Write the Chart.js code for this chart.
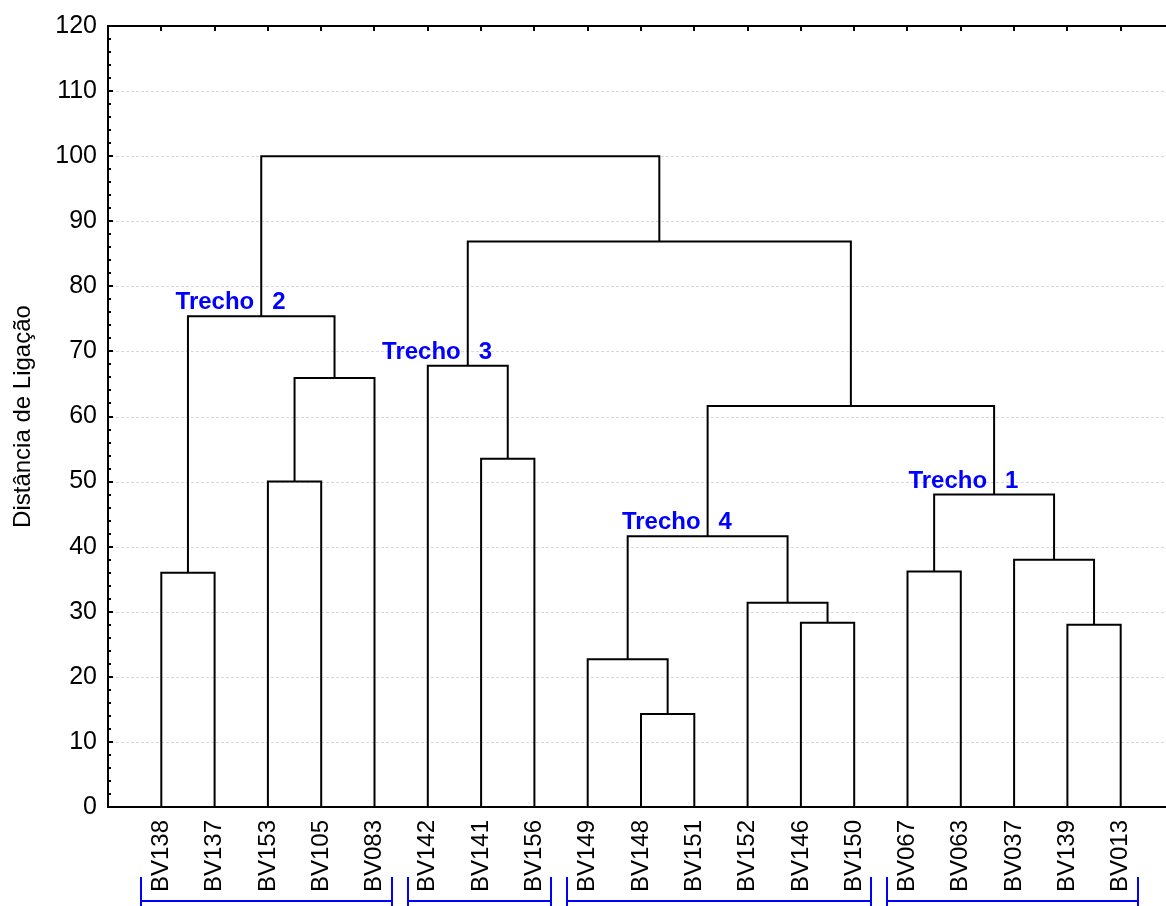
<!DOCTYPE html>
<html>
<head>
<meta charset="utf-8">
<script src="https://cdn.jsdelivr.net/npm/chart.js@4.4.0/dist/chart.umd.min.js"></script>
<style>
  html, body { margin: 0; padding: 0; background: #fff; }
  #wrap { width: 1166px; height: 906px; position: relative; }
</style>
</head>
<body>
<div id="wrap"><canvas id="chart"></canvas></div>
<script>
// --- DATA ---
// leaves in dendrogram order
const leafLabels = ['BV138', 'BV137', 'BV153', 'BV105', 'BV083', 'BV142', 'BV141', 'BV156', 'BV149', 'BV148',
  'BV151', 'BV152', 'BV146', 'BV150', 'BV067', 'BV063', 'BV037', 'BV139', 'BV013'];

// linkage: ids below 19 are leaves, id 19 + k is merge k
const mergeLeft = [0, 2, 20, 19, 6, 5, 9, 8, 12, 11, 26, 14, 17, 16, 30, 29, 24, 22];
const mergeRight = [1, 3, 4, 21, 7, 23, 10, 25, 13, 27, 28, 15, 18, 31, 32, 33, 34, 35];
const mergeHeight = [36.0, 50.0, 65.9, 75.4, 53.5, 67.8, 14.3, 22.7, 28.3, 31.4, 41.6, 36.2, 28.0, 38.0, 48.0, 61.6, 86.9, 100.0];

// groups (trechos)
const groupWord = 'Trecho';
const groupNumber = ['2', '3', '4', '1'];
const groupMerge = [3, 5, 10, 14];
const groupFirstLeaf = [0, 5, 8, 14];
const groupLastLeaf = [4, 7, 13, 18];

const yTitle = 'Distância de Ligação';
const yMin = 0, yMax = 120, yStep = 10, yMinorStep = 2;

// --- BUILD TREE LINES ---
const N = leafLabels.length;
const nodeX = leafLabels.map((_, i) => i + 1);
const nodeY = leafLabels.map(() => 0);
mergeHeight.forEach((h, k) => {
  nodeX.push((nodeX[mergeLeft[k]] + nodeX[mergeRight[k]]) / 2);
  nodeY.push(h);
});

const datasets = mergeHeight.map((h, k) => {
  const a = mergeLeft[k], b = mergeRight[k];
  return {
    data: [
      { x: nodeX[a], y: nodeY[a] },
      { x: nodeX[a], y: h },
      { x: nodeX[b], y: h },
      { x: nodeX[b], y: nodeY[b] }
    ],
    showLine: true,
    borderColor: '#000',
    borderWidth: 2,
    pointRadius: 0,
    tension: 0,
    fill: false
  };
});

const FONT = "'Liberation Sans', Arial, sans-serif";
const BLUE = '#0000ff';

// --- DECORATION PLUGIN ---
const decor = {
  id: 'decor',
  beforeDatasetsDraw(chart) {
    const { ctx, chartArea: a, scales: { y } } = chart;
    ctx.save();
    ctx.strokeStyle = '#d9d9d9';
    ctx.lineWidth = 1;
    ctx.setLineDash([3, 2]);
    for (let v = yMin + yStep; v < yMax; v += yStep) {
      const py = Math.round(y.getPixelForValue(v)) + 0.5;
      ctx.beginPath();
      ctx.moveTo(a.left + 3, py);
      ctx.lineTo(a.right, py);
      ctx.stroke();
    }
    ctx.restore();
  },
  afterDatasetsDraw(chart) {
    const { ctx, chartArea: a, scales: { x, y } } = chart;
    ctx.save();
    ctx.strokeStyle = '#000';
    ctx.lineWidth = 2;
    // top frame and its ticks
    ctx.beginPath();
    ctx.moveTo(a.left - 1, a.top);
    ctx.lineTo(a.right, a.top);
    leafLabels.forEach((_, i) => {
      const px = Math.round(x.getPixelForValue(i + 1));
      ctx.moveTo(px, a.top);
      ctx.lineTo(px, a.top + 5);
    });
    // inner y ticks
    for (let v = yMin; v <= yMax; v += yMinorStep) {
      const py = Math.round(y.getPixelForValue(v));
      const len = v % yStep === 0 ? 5 : 3;
      ctx.moveTo(a.left, py);
      ctx.lineTo(a.left + len, py);
    }
    ctx.stroke();

    // group labels
    ctx.fillStyle = BLUE;
    ctx.font = 'bold 24px ' + FONT;
    ctx.textBaseline = 'alphabetic';
    groupMerge.forEach((m, g) => {
      const px = x.getPixelForValue(nodeX[N + m]);
      const py = y.getPixelForValue(mergeHeight[m]) - 7;
      ctx.textAlign = 'right';
      ctx.fillText(groupWord, px - 7, py);
      ctx.textAlign = 'left';
      ctx.fillText(groupNumber[g], px + 11, py);
    });

    // group brackets under the labels
    ctx.strokeStyle = BLUE;
    ctx.lineWidth = 2;
    groupFirstLeaf.forEach((f, g) => {
      const x1 = Math.round(x.getPixelForValue(f + 1 - 0.38));
      const x2 = Math.round(x.getPixelForValue(groupLastLeaf[g] + 1 + 0.32));
      ctx.beginPath();
      ctx.moveTo(x1, 877);
      ctx.lineTo(x1, 906);
      ctx.moveTo(x1, 901);
      ctx.lineTo(x2, 901);
      ctx.moveTo(x2, 877);
      ctx.lineTo(x2, 906);
      ctx.stroke();
    });
    ctx.restore();
  }
};

// --- CHART ---
new Chart(document.getElementById('chart'), {
  type: 'scatter',
  data: { datasets },
  plugins: [decor],
  options: {
    responsive: true,
    maintainAspectRatio: false,
    animation: false,
    layout: { padding: { top: 24, right: 0, left: 0, bottom: 0 } },
    plugins: { legend: { display: false }, tooltip: { enabled: false } },
    scales: {
      x: {
        type: 'linear',
        min: 0,
        max: 19.85,
        grid: { display: false, drawTicks: false },
        border: { display: true, color: '#000', width: 2 },
        ticks: {
          stepSize: 1,
          autoSkip: false,
          minRotation: 90,
          maxRotation: 90,
          padding: 13,
          color: '#000',
          font: { family: FONT, size: 24 },
          callback: (v) => {
            const i = Math.round(v);
            if (Math.abs(v - i) > 1e-6) return '';
            return leafLabels[i - 1] || '';
          }
        },
        afterFit: (s) => { s.height = 99; s.paddingLeft = 0; s.paddingRight = 0; }
      },
      y: {
        min: yMin,
        max: yMax,
        grid: { display: false, drawTicks: false },
        border: { display: true, color: '#000', width: 2 },
        ticks: {
          stepSize: yStep,
          padding: 11,
          color: '#000',
          font: { family: FONT, size: 25 }
        },
        title: {
          display: true,
          text: yTitle,
          color: '#000',
          font: { family: FONT, size: 24 },
          padding: { top: 9, bottom: 0 }
        },
        afterFit: (s) => { s.width = 108; }
      }
    }
  }
});
</script>
</body>
</html>
